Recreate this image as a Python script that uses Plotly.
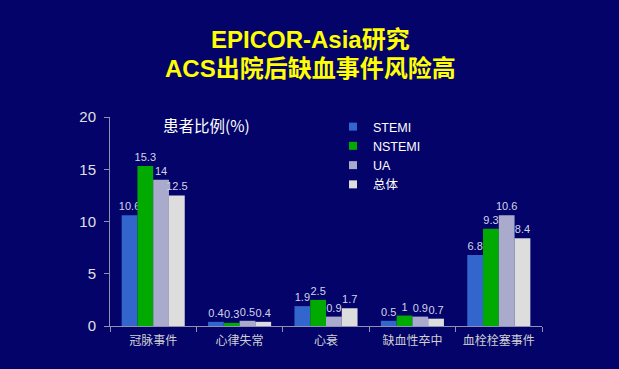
import plotly.graph_objects as go

categories = ["冠脉事件", "心律失常", "心衰", "缺血性卒中", "血栓栓塞事件"]
series_names = ["STEMI", "NSTEMI", "UA", "总体"]
stemi = [10.6, 0.4, 1.9, 0.5, 6.8]
nstemi = [15.3, 0.3, 2.5, 1, 9.3]
ua = [14, 0.5, 0.9, 0.9, 10.6]
overall = [12.5, 0.4, 1.7, 0.7, 8.4]
y_ticks = [0, 5, 10, 15, 20]

colors = ["#3366CC", "#00AA00", "#AAAACC", "#DDDDDD"]
values = [stemi, nstemi, ua, overall]

fig = go.Figure()
for name, vals, col in zip(series_names, values, colors):
    fig.add_trace(go.Bar(
        x=categories, y=vals, name=name, legendgroup=name, showlegend=False,
        marker=dict(color=col, line=dict(width=0)),
        text=[str(v) for v in vals], textposition="outside",
        textfont=dict(color="#D4D4E8", size=11, family="Liberation Sans, Arial"),
        constraintext="none", cliponaxis=False,
    ))
# legend entries with small square swatches
for name, col in zip(series_names, colors):
    fig.add_trace(go.Scatter(
        x=[None], y=[None], mode="markers", name=name, legendgroup=name,
        marker=dict(symbol="square", size=8, color=col, line=dict(width=0)),
        showlegend=True, hoverinfo="skip",
    ))

W, H = 619, 369
l, r, t, b = 110, 77, 117, 43
pw, ph = W - l - r, H - t - b
def px(x): return (x - l) / pw
def py(y): return 1 - (y - t) / ph

bg = "#03036A"
fig.update_layout(
    width=W, height=H,
    paper_bgcolor=bg, plot_bgcolor=bg,
    margin=dict(l=l, r=r, t=t, b=b, autoexpand=False),
    barmode="group", bargap=0.27, bargroupgap=0,
    showlegend=True,
    legend=dict(x=px(333), y=py(112), xanchor="left", yanchor="top",
                font=dict(color="#FFFFFF", size=12.5, family="Liberation Sans, Noto Sans CJK SC"),
                bgcolor="rgba(0,0,0,0)", tracegroupgap=0),
    font=dict(family="Liberation Sans, Noto Sans CJK SC", color="#DDDDDD"),
    xaxis=dict(showline=True, linecolor="#9090B0", linewidth=1, automargin=False, tickangle=0,
               ticks="outside", tickson="boundaries", ticklen=5, tickcolor="#9090B0",
               ticklabelstandoff=4,
               tickfont=dict(size=12, color="#D0D0D0", family="Noto Sans CJK SC"),
               showgrid=False, zeroline=False),
    yaxis=dict(range=[0, 20], tickvals=y_ticks, showline=True, linecolor="#9090B0", linewidth=1,
               automargin=False, ticks="outside", ticklen=5, tickcolor="#9090B0",
               ticklabelstandoff=5,
               tickfont=dict(size=15, color="#E0E0E0", family="Liberation Sans, Arial"),
               showgrid=False, zeroline=False),
    annotations=[
        dict(text="<b>EPICOR-Asia研究</b>", x=px(310), y=py(40), xref="paper", yref="paper",
             xanchor="center", yanchor="middle",
             showarrow=False, font=dict(size=24, color="#FFFF00", family="Liberation Sans, Noto Sans CJK SC")),
        dict(text="<b>ACS出院后缺血事件风险高</b>", x=px(310), y=py(68), xref="paper", yref="paper",
             xanchor="center", yanchor="middle",
             showarrow=False, font=dict(size=24, color="#FFFF00", family="Liberation Sans, Noto Sans CJK SC")),
        dict(text="患者比例(%)", x=px(206), y=py(125), xref="paper", yref="paper", showarrow=False,
             xanchor="center", yanchor="middle",
             font=dict(size=15.5, color="#FFFFFF", family="Noto Sans CJK SC")),
    ],
)

fig.write_html("out.html", config={"displayModeBar": False},
               post_script="document.body.style.margin='0';document.body.style.overflow='hidden';")
